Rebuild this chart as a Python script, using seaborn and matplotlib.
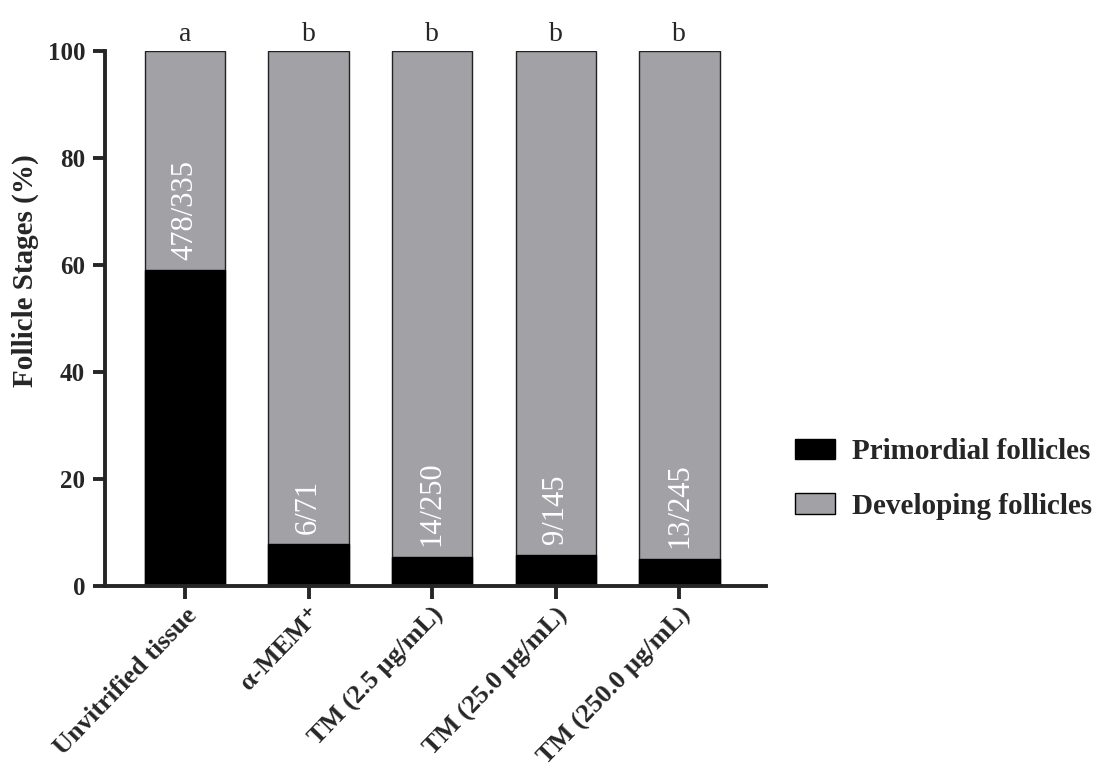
import matplotlib
matplotlib.use("Agg")
import matplotlib.pyplot as plt
import matplotlib.patches as mpatches
import seaborn as sns
import pandas as pd

groups = ["Unvitrified tissue", "\u03b1-MEM\u207a", "TM (2.5 \u00b5g/mL)",
          "TM (25.0 \u00b5g/mL)", "TM (250.0 \u00b5g/mL)"]
primordial = [59.0, 7.8, 5.4, 5.8, 5.0]
total = [100, 100, 100, 100, 100]
counts = ["478/335", "6/71", "14/250", "9/145", "13/245"]
letters = ["a", "b", "b", "b", "b"]

df = pd.DataFrame({"group": groups, "primordial": primordial, "total": total})

sns.set_style("ticks")
plt.rcParams['font.family'] = ['Liberation Serif', 'DejaVu Serif']

grey = "#a2a1a6"
fig, ax = plt.subplots(figsize=(11.02, 7.72), dpi=100)
fig.subplots_adjust(left=0.095, right=0.695, top=0.934, bottom=0.241)

sns.barplot(data=df, x="group", y="total", color=grey, edgecolor="#222222",
            linewidth=1.0, width=0.65, saturation=1, ax=ax)
sns.barplot(data=df, x="group", y="primordial", color="black", edgecolor="black",
            linewidth=1.0, width=0.65, saturation=1, ax=ax)

for i, (p, c, l) in enumerate(zip(primordial, counts, letters)):
    ax.text(i, p + 2.0, c, rotation=90, ha="center", va="bottom", color="white",
            fontsize=22)
    ax.text(i, 100.8, l, ha="center", va="bottom", fontsize=20)

ax.set_ylim(0, 100)
ax.set_xlim(-0.65, 4.7)
ax.set_yticks([0, 20, 40, 60, 80, 100])
ax.set_xlabel("")
ax.set_ylabel("Follicle Stages (%)", fontsize=21, fontweight="bold")
ax.yaxis.set_label_coords(-0.1, 0.59)
ax.tick_params(axis="both", width=2.8, length=9, labelsize=18)
ax.tick_params(axis="y", pad=5)
plt.setp(ax.get_yticklabels(), fontweight="bold")
plt.setp(ax.get_xticklabels(), fontweight="bold", rotation=46, ha="right",
         rotation_mode="anchor", fontsize=19)
for s in ["left", "bottom"]:
    ax.spines[s].set_linewidth(2.8)
sns.despine(ax=ax)

handles = [mpatches.Patch(facecolor="black", edgecolor="black", label="Primordial follicles"),
           mpatches.Patch(facecolor=grey, edgecolor="black", label="Developing follicles")]
leg = ax.legend(handles=handles, loc="center left", bbox_to_anchor=(1.027, 0.2),
                frameon=False, prop={"weight": "bold", "size": 21}, borderaxespad=0,
                handlelength=1.35, handleheight=0.7, handletextpad=0.6, labelspacing=0.95)

fig.savefig("out.png", dpi=100)
